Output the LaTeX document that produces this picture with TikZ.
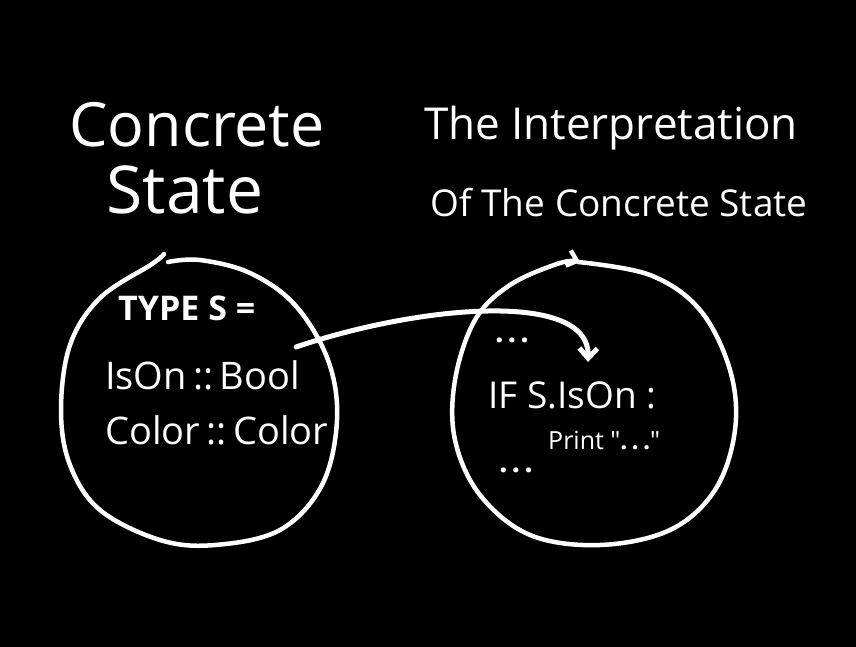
\documentclass[tikz,border=0pt]{standalone}
\usepackage{fontspec}
\setmainfont{Open Sans}
\usetikzlibrary{arrows.meta,positioning}

\begin{document}
\begin{tikzpicture}[x=1pt,y=-1pt,
    chalk/.style={white,line width=4.5pt,line cap=round,line join=round},
    hand/.style={text=white,inner sep=0pt}]
    % board
    \fill[black] (0,0) rectangle (856,647);
    \useasboundingbox (0,0) rectangle (856,647);
    % titles
    \node[hand,font=\fontsize{61}{64}\selectfont] (concrete) at (197,125) {Concrete};
    \node[hand,font=\fontsize{66}{70}\selectfont] (state) at (185,190) {State};
    \node[hand,font=\fontsize{44}{48}\selectfont] (interp) at (611,128) {The Interpretation};
    \node[hand,font=\fontsize{37}{40}\selectfont] (ofstate) at (619,203) {Of The Concrete State};
    % left circle
    \draw[chalk] plot[smooth,tension=0.6] coordinates {(164,254) (152,264) (100,298) (70,345) (61,410) (70,465) (100,510) (160,540) (215,545) (280,530) (322,485) (337,420) (328,360) (295,305) (250,273) (200,260) (168,262)};
    \node[hand,anchor=west,font=\fontsize{34}{36}\selectfont\bfseries] (typeS) at (118,308) {TYPE S =};
    \node[hand,anchor=west,font=\fontsize{38}{40}\selectfont] (ison) at (105,375) {IsOn\,::\,Bool};
    \node[hand,anchor=west,font=\fontsize{38}{40}\selectfont] (color) at (105,430) {Color\,::\,Color};
    % right circle
    \draw[chalk,-{Straight Barb[length=9pt,width=16pt]}] plot[smooth,tension=0.6] coordinates {(578,262) (650,275) (700,310) (730,370) (735,430) (715,490) (670,530) (600,545) (530,535) (480,495) (455,440) (455,380) (475,320) (510,285) (560,263) (580,262)};
    \node[hand,font=\fontsize{30}{32}\selectfont\bfseries] (dotsA) at (512,340) {.\hspace{4pt}.\hspace{4pt}.};
    \node[hand,anchor=west,font=\fontsize{37}{40}\selectfont] (ifS) at (488,395) {IF S.IsOn :};
    \node[hand,anchor=west,font=\fontsize{25}{27}\selectfont] (print) at (548,440) {Print \textquotedbl{}\textbf{.\,.\,.}\textquotedbl};
    \node[hand,font=\fontsize{30}{32}\selectfont\bfseries] (dotsB) at (516,470) {.\hspace{4pt}.\hspace{4pt}.};
    % link
    \coordinate (target) at (588,362);
    \draw[chalk,line width=5pt,-{Straight Barb[length=10pt,width=18pt]}] (ison.east) ++(-4,-28) .. controls (420,305) and (590,290) .. (target);
\end{tikzpicture}
\end{document}
